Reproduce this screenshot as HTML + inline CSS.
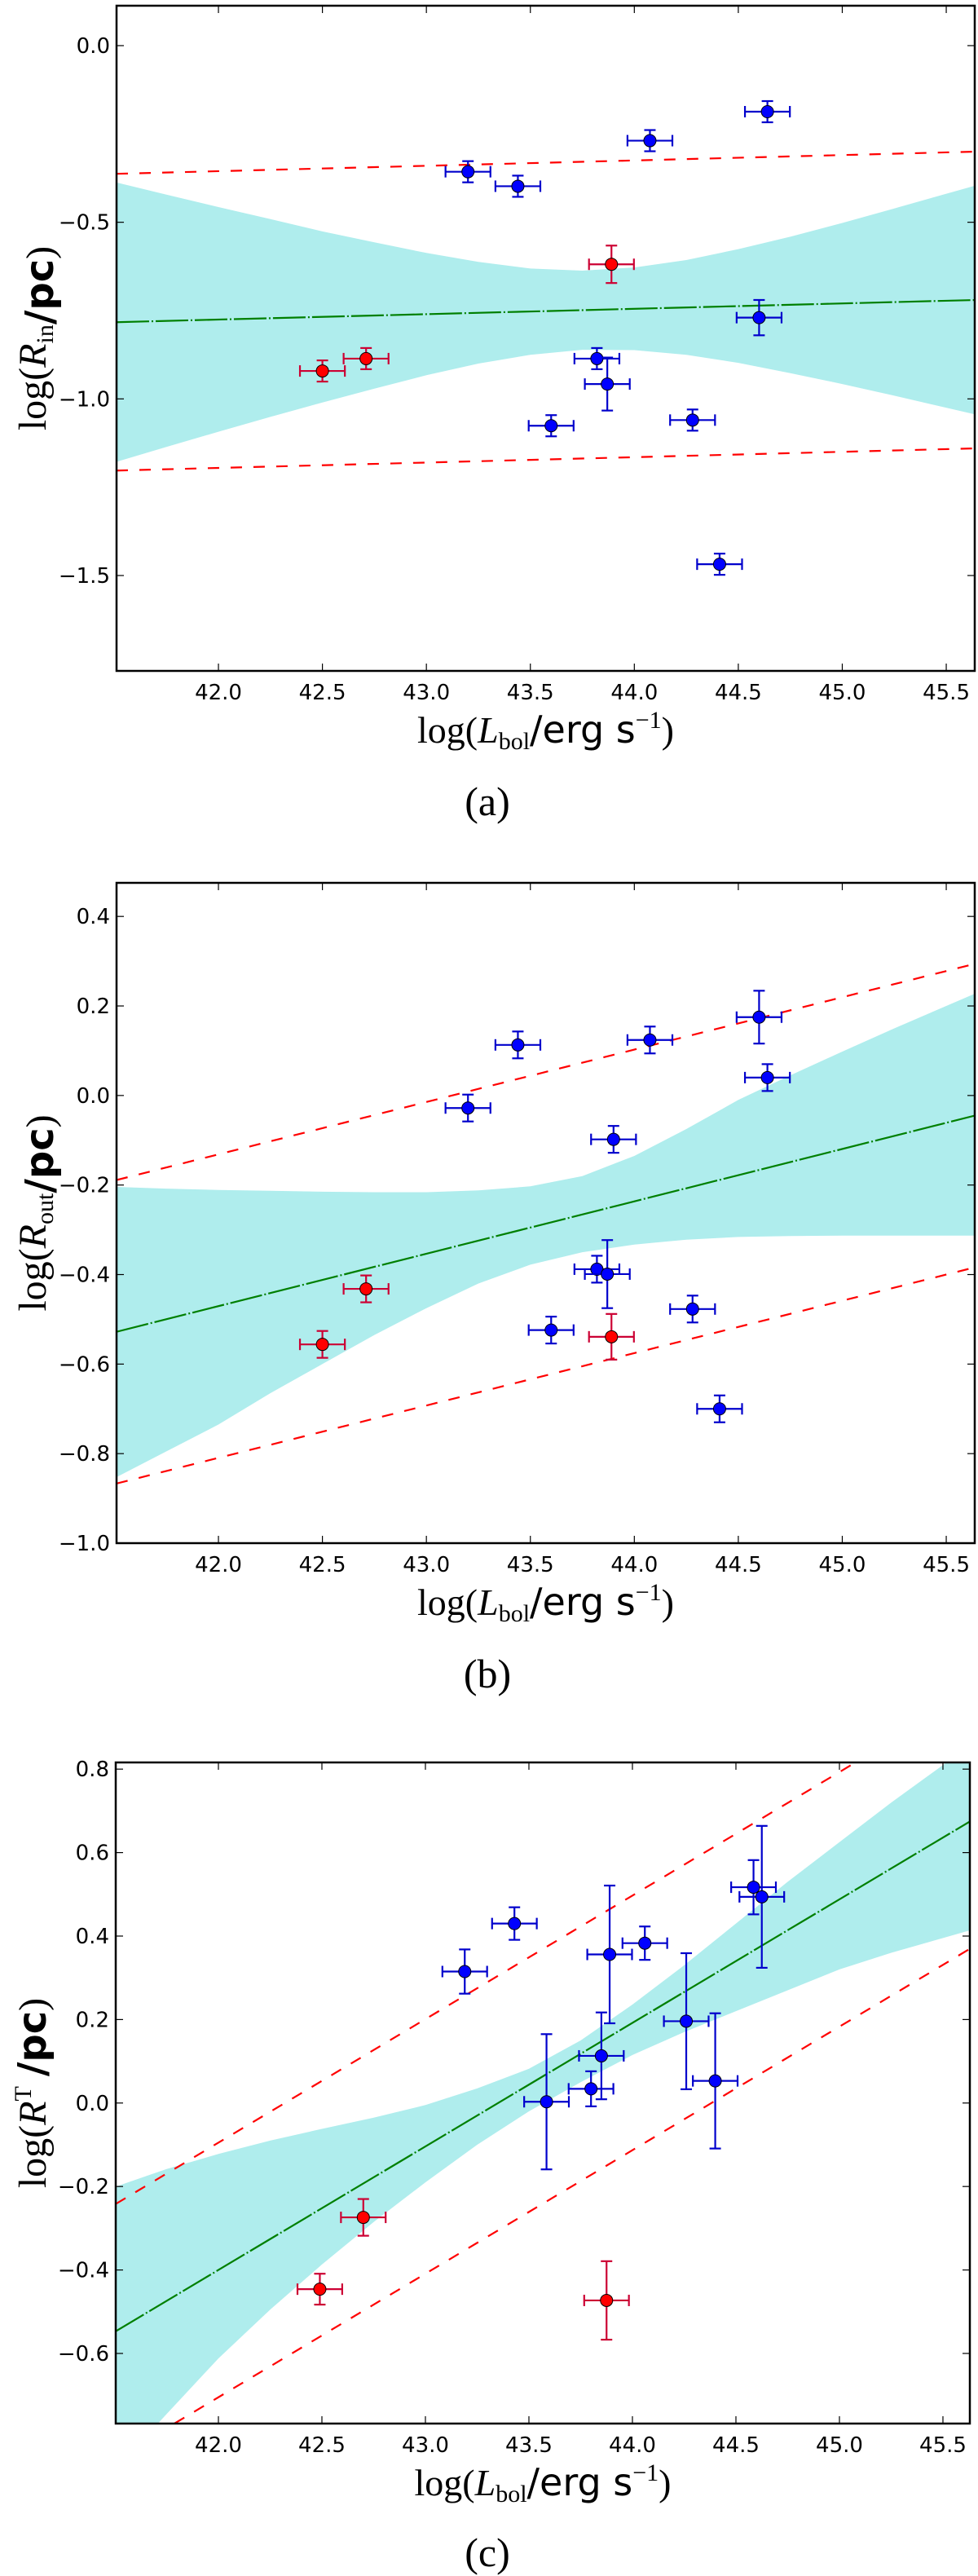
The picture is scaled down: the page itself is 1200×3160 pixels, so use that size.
<!DOCTYPE html>
<html><head><meta charset="utf-8">
<style>
html,body{margin:0;padding:0;background:#fff;}
svg{display:block;}
.tk{font-family:"DejaVu Sans","Liberation Sans",sans-serif;font-size:26px;fill:#000;}
.ser{font-family:"Liberation Serif","DejaVu Serif",serif;}
.san{font-family:"DejaVu Sans","Liberation Sans",sans-serif;}
</style></head>
<body>
<svg id="fig" width="1200" height="3160" viewBox="0 0 1200 3160" xmlns="http://www.w3.org/2000/svg"></svg>
<script>
// ---------- Panel (a) data ----------
const aBlueX = [43.20, 43.44, 44.075, 44.64, 44.60, 43.82, 43.87, 43.60, 44.28, 44.41];
const aBlueY = [-0.357, -0.398, -0.269, -0.187, -0.770, -0.886, -0.958, -1.076, -1.060, -1.468];
const aBlueYErr = [0.03, 0.03, 0.03, 0.03, 0.05, 0.03, 0.075, 0.03, 0.03, 0.03];
const aRedX = [42.50, 42.71, 43.89];
const aRedY = [-0.921, -0.886, -0.619];
const aRedYErr = [0.03, 0.03, 0.053];
const aFit = [-0.783, 0.0152]; // value at 41.5, slope
const aScatter = 0.42;
const bandX = [41.5, 41.75, 42.0, 42.25, 42.5, 42.75, 43.0, 43.25, 43.5, 43.75, 44.0, 44.25, 44.5, 44.75, 45.0, 45.25, 45.64];
const aBandUp = [-0.386, -0.422, -0.457, -0.491, -0.526, -0.557, -0.587, -0.612, -0.631, -0.637, -0.628, -0.607, -0.576, -0.541, -0.502, -0.461, -0.396];
const aBandLo = [-1.180, -1.136, -1.093, -1.051, -1.010, -0.971, -0.933, -0.900, -0.875, -0.861, -0.862, -0.875, -0.898, -0.927, -0.958, -0.991, -1.044];
const aYTicks = [0.0, -0.5, -1.0, -1.5];
const aYTickLabels = ["0.0", "\u22120.5", "\u22121.0", "\u22121.5"];

// ---------- Panel (b) data ----------
const bBlueX = [43.44, 44.075, 44.60, 44.64, 43.20, 43.90, 43.82, 43.87, 43.60, 44.28, 44.41];
const bBlueY = [0.113, 0.124, 0.175, 0.040, -0.028, -0.098, -0.388, -0.399, -0.524, -0.477, -0.700];
const bBlueYErr = [0.03, 0.03, 0.059, 0.03, 0.03, 0.03, 0.03, 0.076, 0.03, 0.03, 0.03];
const bRedX = [42.50, 42.71, 43.89];
const bRedY = [-0.556, -0.432, -0.539];
const bRedYErr = [0.03, 0.03, 0.051];
const bFit = [-0.529, 0.117];
const bScatter = 0.339;
const bBandUp = [-0.204, -0.208, -0.211, -0.213, -0.215, -0.216, -0.216, -0.212, -0.203, -0.180, -0.135, -0.075, -0.010, 0.045, 0.098, 0.150, 0.228];
const bBandLo = [-0.855, -0.795, -0.735, -0.665, -0.600, -0.535, -0.475, -0.420, -0.378, -0.350, -0.333, -0.322, -0.316, -0.314, -0.313, -0.313, -0.313];
const bYTicks = [0.4, 0.2, 0.0, -0.2, -0.4, -0.6, -0.8, -1.0];
const bYTickLabels = ["0.4", "0.2", "0.0", "\u22120.2", "\u22120.4", "\u22120.6", "\u22120.8", "\u22121.0"];

// ---------- Panel (c) data ----------
const cBlueX = [43.19, 43.43, 43.89, 44.06, 44.585, 44.625, 44.26, 44.40, 43.85, 43.80, 43.585];
const cBlueY = [0.315, 0.430, 0.356, 0.383, 0.517, 0.494, 0.196, 0.053, 0.113, 0.034, 0.003];
const cBlueYErr = [0.053, 0.039, 0.165, 0.04, 0.065, 0.17, 0.163, 0.162, 0.104, 0.042, 0.162];
const cRedX = [42.49, 42.70, 43.875];
const cRedY = [-0.446, -0.274, -0.473];
const cRedYErr = [0.037, 0.044, 0.094];
const cFit = [-0.548, 0.296];
const cScatter = 0.305;
const cBandUp = [-0.201, -0.158, -0.122, -0.090, -0.062, -0.035, -0.005, 0.035, 0.082, 0.150, 0.236, 0.330, 0.430, 0.530, 0.625, 0.720, 0.860];
const cBandLo = [-0.880, -0.745, -0.612, -0.495, -0.387, -0.285, -0.190, -0.100, -0.020, 0.050, 0.115, 0.170, 0.220, 0.270, 0.320, 0.360, 0.415];
const cYTicks = [0.8, 0.6, 0.4, 0.2, 0.0, -0.2, -0.4, -0.6];
const cYTickLabels = ["0.8", "0.6", "0.4", "0.2", "0.0", "\u22120.2", "\u22120.4", "\u22120.6"];

const xTicks = [42.0, 42.5, 43.0, 43.5, 44.0, 44.5, 45.0, 45.5];
const xTickLabels = ["42.0", "42.5", "43.0", "43.5", "44.0", "44.5", "45.0", "45.5"];
const xErr = 0.108;

const NS = "http://www.w3.org/2000/svg";
const svg = document.getElementById('fig');
function mk(tag, attrs, parent){
  const e = document.createElementNS(NS, tag);
  for (const k in attrs) e.setAttribute(k, attrs[k]);
  (parent || svg).appendChild(e);
  return e;
}

function panel(cfg){
  const g = mk('g', {});
  
  
  const sx = v => cfg.L + (v - cfg.x0) / (cfg.x1 - cfg.x0) * (cfg.R - cfg.L);
  const sy = v => cfg.T + (cfg.y1 - v) / (cfg.y1 - cfg.y0) * (cfg.B - cfg.T);
  const clipId = cfg.name + '-clip';
  const defs = mk('defs', {}, g);
  const cp = mk('clipPath', {id: clipId}, defs);
  mk('rect', {x: cfg.L, y: cfg.T, width: cfg.R - cfg.L, height: cfg.B - cfg.T}, cp);
  const plot = mk('g', {'clip-path': 'url(#' + clipId + ')'}, g);
  
  

  // band
  let d = '';
  bandX.forEach((x, i) => { d += (i ? 'L' : 'M') + sx(x).toFixed(1) + ',' + sy(cfg.up[i]).toFixed(1); });
  for (let i = bandX.length - 1; i >= 0; i--) d += 'L' + sx(bandX[i]).toFixed(1) + ',' + sy(cfg.lo[i]).toFixed(1);
  const band = mk('path', {d: d + 'Z', fill: '#afeded', stroke: 'none'}, plot);
  
  

  // fit and scatter lines
  const fy = x => cfg.fit[0] + cfg.fit[1] * (x - 41.5);
  const xa = cfg.x0, xb = cfg.x1;
  const gl = mk('line', {x1: sx(xa), y1: sy(fy(xa)), x2: sx(xb), y2: sy(fy(xb)), stroke: '#007f00', 'stroke-width': 2.2, 'stroke-dasharray': '40,3,2,3'}, plot);
  
  
  [1, -1].forEach(s => {
    const rl = mk('line', {x1: sx(xa), y1: sy(fy(xa) + s * cfg.sc), x2: sx(xb), y2: sy(fy(xb) + s * cfg.sc), stroke: '#ff0000', 'stroke-width': 2.2, 'stroke-dasharray': '14,14'}, plot);
    
    
  });

  // points
  function pts(X, Y, E, col, ecol, nm){
    X.forEach((x, i) => {
      const pg = mk('g', {}, plot);
      
      
      const cx = sx(x), cy = sy(Y[i]);
      const xl = sx(x - xErr), xr = sx(x + xErr), yt = sy(Y[i] + E[i]), yb = sy(Y[i] - E[i]);
      const st = {stroke: ecol, 'stroke-width': 2.2};
      mk('line', Object.assign({x1: xl, y1: cy, x2: xr, y2: cy}, st), pg);
      mk('line', Object.assign({x1: cx, y1: yt, x2: cx, y2: yb}, st), pg);
      mk('line', Object.assign({x1: xl, y1: cy - 7, x2: xl, y2: cy + 7}, st), pg);
      mk('line', Object.assign({x1: xr, y1: cy - 7, x2: xr, y2: cy + 7}, st), pg);
      mk('line', Object.assign({x1: cx - 7, y1: yt, x2: cx + 7, y2: yt}, st), pg);
      mk('line', Object.assign({x1: cx - 7, y1: yb, x2: cx + 7, y2: yb}, st), pg);
      mk('circle', {cx: cx, cy: cy, r: 7.5, fill: col, stroke: '#000', 'stroke-width': 1}, pg);
    });
  }
  pts(cfg.bx, cfg.by, cfg.be, '#0000ff', '#0000cc', 'blue');
  pts(cfg.rx, cfg.ry, cfg.re, '#ff0000', '#cc0033', 'red');

  // frame
  const fr = mk('rect', {x: cfg.L, y: cfg.T, width: cfg.R - cfg.L, height: cfg.B - cfg.T, fill: 'none', stroke: '#000', 'stroke-width': 2.5}, g);
  
  

  // x ticks
  xTicks.forEach((t, i) => {
    const x = sx(t);
    mk('line', {x1: x, y1: cfg.B, x2: x, y2: cfg.B - 9, stroke: '#000', 'stroke-width': 1.2}, g);
    mk('line', {x1: x, y1: cfg.T, x2: x, y2: cfg.T + 9, stroke: '#000', 'stroke-width': 1.2}, g);
    const tx = mk('text', {x: x, y: cfg.B + 35, 'text-anchor': 'middle', class: 'tk'}, g);
    
    
    tx.textContent = xTickLabels[i];
  });
  // y ticks
  cfg.yt.forEach((t, i) => {
    const y = sy(t);
    mk('line', {x1: cfg.L, y1: y, x2: cfg.L + 9, y2: y, stroke: '#000', 'stroke-width': 1.2}, g);
    mk('line', {x1: cfg.R, y1: y, x2: cfg.R - 9, y2: y, stroke: '#000', 'stroke-width': 1.2}, g);
    const ty = mk('text', {x: cfg.L - 8, y: y + 9, 'text-anchor': 'end', class: 'tk'}, g);
    
    
    ty.textContent = cfg.ytl[i];
  });

  // x label
  const xlab = mk('text', {x: (cfg.L + cfg.R) / 2, y: cfg.B + 88, 'text-anchor': 'middle', style: 'font-size:46px'}, g);
  
  
  xlab.innerHTML = '<tspan class="ser">log(</tspan><tspan class="ser" font-style="italic">L</tspan><tspan class="ser" style="font-size:30px" dy="8">bol</tspan><tspan class="san" dy="-8">/erg s</tspan><tspan class="ser" style="font-size:30px" dy="-18">\u22121</tspan><tspan class="ser" dy="18">)</tspan>';

  // y label
  const cy = (cfg.T + cfg.B) / 2;
  const ylab = mk('text', {x: 0, y: 0, 'text-anchor': 'middle', style: 'font-size:48px', transform: 'translate(56,' + cy + ') rotate(-90)'}, g);
  
  
  ylab.innerHTML = '<tspan class="ser">log(</tspan><tspan class="ser" font-style="italic">R</tspan>' + cfg.ysub + '<tspan class="san" font-weight="bold">/pc</tspan><tspan class="ser">)</tspan>';

  // caption
  const cap = mk('text', {x: 598, y: cfg.capY, 'text-anchor': 'middle', class: 'ser', style: 'font-size:50px'}, g);
  
  
  cap.textContent = cfg.cap;
}

panel({name: 'panel-a', L: 143, R: 1196, T: 7, B: 823, x0: 41.51, x1: 45.637, y0: -1.770, y1: 0.113,
  bx: aBlueX, by: aBlueY, be: aBlueYErr, rx: aRedX, ry: aRedY, re: aRedYErr,
  fit: aFit, sc: aScatter, up: aBandUp, lo: aBandLo, yt: aYTicks, ytl: aYTickLabels,
  ysub: '<tspan class="ser" style="font-size:30px" dy="9">in</tspan><tspan dy="-9"></tspan>', cap: '(a)', capY: 1000});

panel({name: 'panel-b', L: 143, R: 1196, T: 1083, B: 1893, x0: 41.51, x1: 45.637, y0: -1.0, y1: 0.475,
  bx: bBlueX, by: bBlueY, be: bBlueYErr, rx: bRedX, ry: bRedY, re: bRedYErr,
  fit: bFit, sc: bScatter, up: bBandUp, lo: bBandLo, yt: bYTicks, ytl: bYTickLabels,
  ysub: '<tspan class="ser" style="font-size:30px" dy="9">out</tspan><tspan dy="-9"></tspan>', cap: '(b)', capY: 2070});

panel({name: 'panel-c', L: 142, R: 1190, T: 2162, B: 2973, x0: 41.504, x1: 45.63, y0: -0.768, y1: 0.816,
  bx: cBlueX, by: cBlueY, be: cBlueYErr, rx: cRedX, ry: cRedY, re: cRedYErr,
  fit: cFit, sc: cScatter, up: cBandUp, lo: cBandLo, yt: cYTicks, ytl: cYTickLabels,
  ysub: '<tspan class="ser" style="font-size:30px" dy="-18">T</tspan><tspan dy="18"> </tspan>', cap: '(c)', capY: 3148});
</script>
</body></html>
